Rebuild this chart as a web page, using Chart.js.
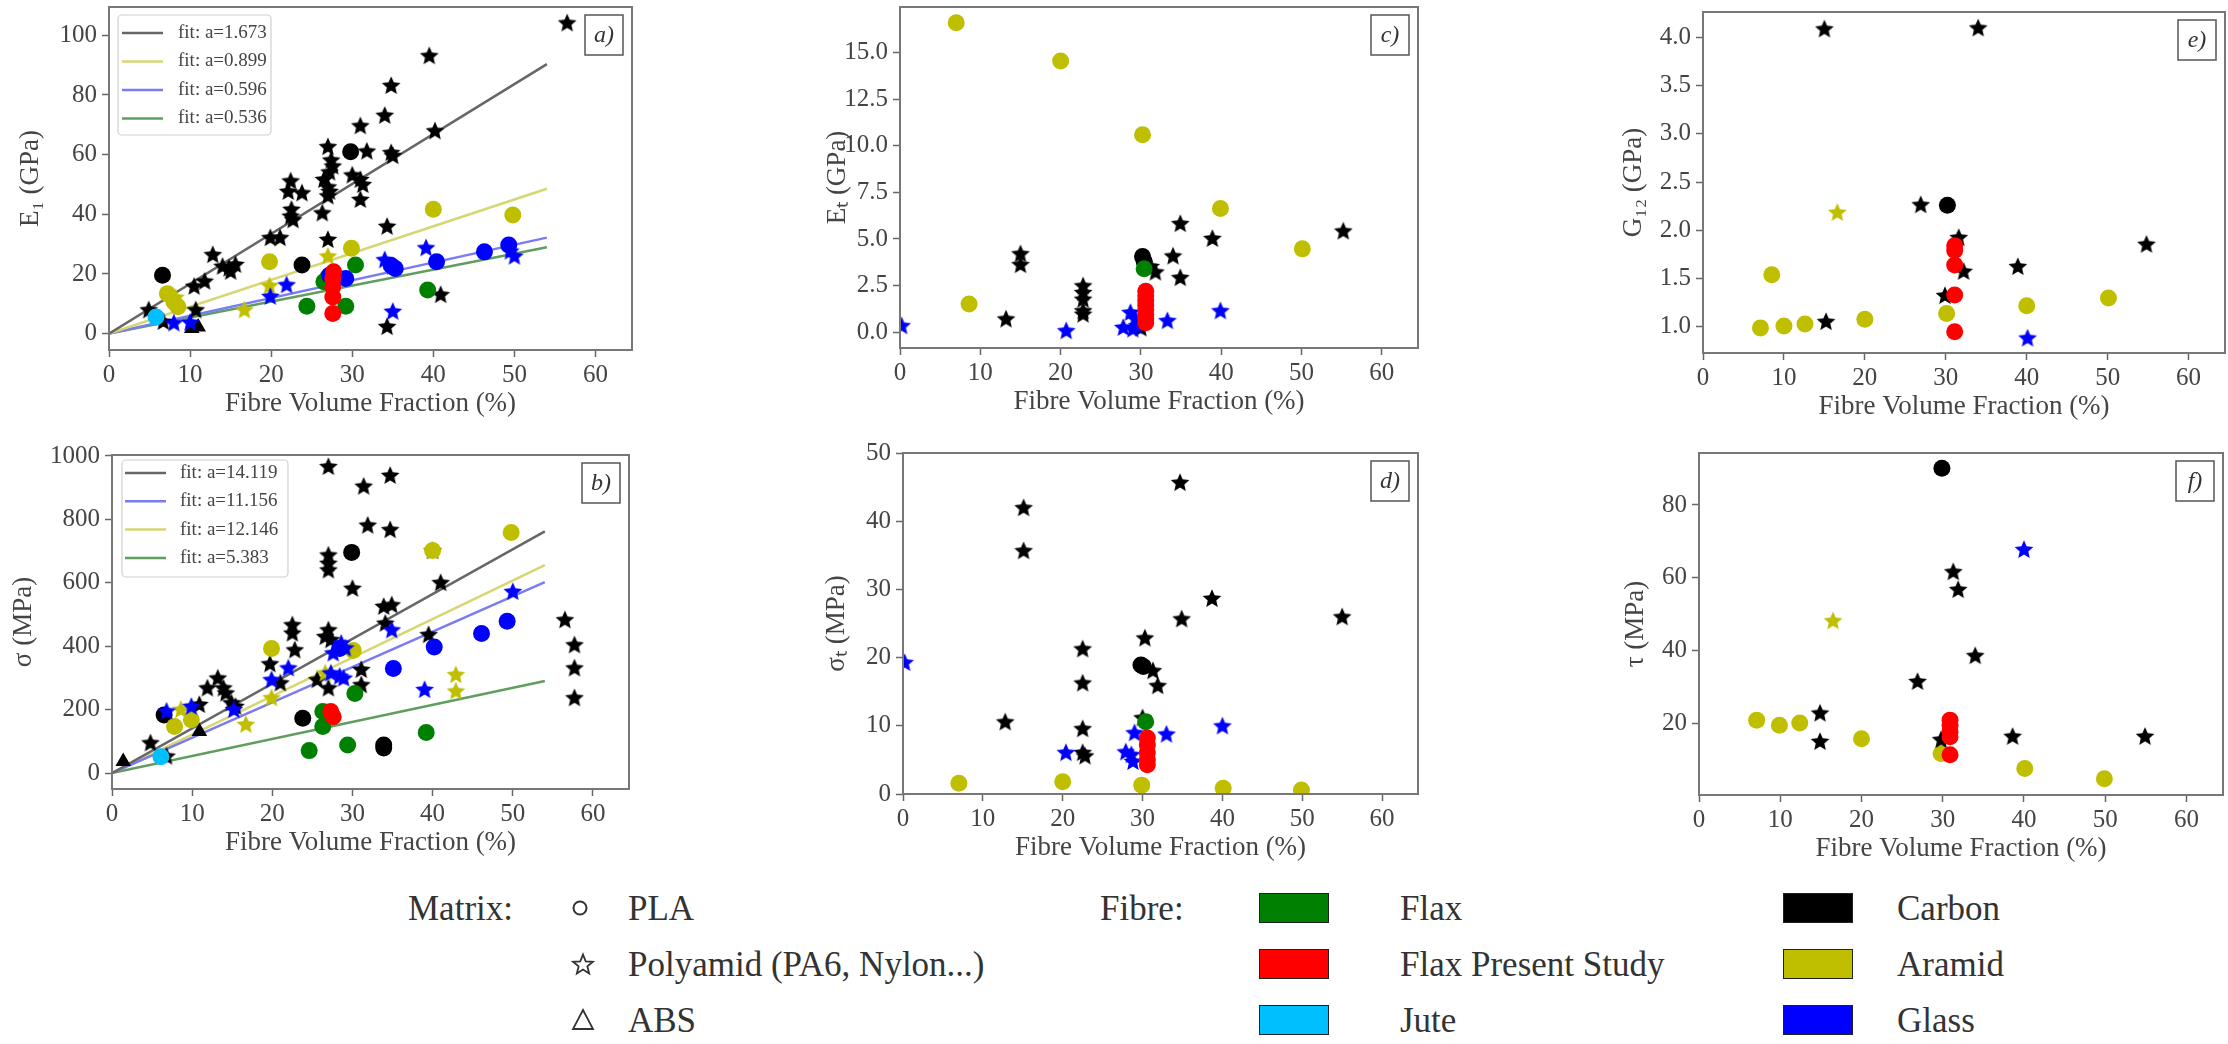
<!DOCTYPE html>
<html>
<head>
<meta charset="utf-8">
<script src="https://cdn.jsdelivr.net/npm/chart.js@4.4.0/dist/chart.umd.min.js"></script>
<style>
  body { margin: 0; background: #fff; width: 2228px; height: 1044px; position: relative; overflow: hidden; font-family: "Liberation Serif", serif; color: #333; }
  canvas { position: absolute; }
  .lg { position: absolute; font-size: 35px; line-height: 1; white-space: nowrap; transform: translateY(-50%); }
  .box { position: absolute; width: 68px; height: 28px; border: 1.5px solid #222; transform: translateY(-50%); }
  svg { position: absolute; }
</style>
</head>
<body>
<script>
// ---- shared axis data ----
const xTicks = [0, 10, 20, 30, 40, 50, 60];
const xMax = 64.5;
const fitEnd = 54;

// ---- a) E1 ----
const aYTicks = [0, 20, 40, 60, 80, 100];
const aFitSlopes = [1.673, 0.899, 0.596, 0.536];
const aCarbonStar = [[56.5,104],[39.5,93],[34.8,83],[34,73],[31,69.5],[40.2,67.8],[31.8,61],[34.8,60.5],[35,59.5],[27,62.5],[27.4,58],[27.6,56],[27.2,54],[26.5,51.5],[27,49],[27.2,47.5],[27,46],[26.3,40.3],[30,53],[31,51.5],[31.3,49.8],[31,44.8],[22.4,51],[22.1,47.5],[23.8,47],[22.5,41.5],[22.4,39.2],[22.7,38],[27,31.4],[19.9,32],[21.1,32],[34.3,35.8],[12.8,26.3],[14,22.4],[14.8,21.8],[15.6,23],[15,20.7],[11.8,17.4],[10.5,15.7],[10.7,7.8],[4.9,7.8],[6.7,3.9],[34.3,2.2],[40.9,12.9]];
const aCarbonCircle = [[6.6,19.6],[23.8,23],[29.8,61]];
const aCarbonTri = [[11,2.2],[10.2,1.7]];
const aAramidCircle = [[40,41.7],[49.8,39.8],[29.9,28.6],[19.8,24.1],[7.2,13.4],[8,10.6],[8.5,9]];
const aAramidStar = [[19.8,15.9],[16.7,7.8],[27,25.8],[8.2,12]];
const aGlassCircle = [[46.3,27.4],[49.3,29.7],[40.4,24.1],[35.3,21.8],[34.8,22.8],[27.2,19.6],[29.2,18.5],[28,18.5]];
const aGlassStar = [[39.1,28.6],[34,24.6],[35,22.4],[50,25.8],[49.5,27.5],[21.9,16.2],[19.9,12.3],[35,7.3],[8,3.4],[10,3.6],[28.5,19]];
const aFlaxCircle = [[39.3,14.6],[30.4,23],[24.4,9.2],[29.2,9.2],[26.5,17.4],[27,19]];
const aStudy = [[27.6,18.5],[27.6,15.7],[27.6,12.3],[27.6,6.7],[27.7,20.7]];
const aJute = [[5.8,5.6]];

// ---- b) sigma ----
const bYTicks = [0, 200, 400, 600, 800, 1000];
const bFitSlopes = [14.119, 11.156, 12.146, 5.383];
const bCarbonStar = [[27,965],[31.4,903],[34.7,937],[31.9,780],[34.7,766],[27,686],[27,660],[27,639],[30,581],[41,599],[40,700],[33.9,524],[34.9,529],[34.1,471],[39.5,435],[56.5,482],[57.7,403],[57.7,330],[57.7,236],[22.5,466],[22.5,440],[22.8,387],[19.7,343],[21,283],[27,450],[26.6,429],[27.3,419],[25.6,293],[27,267],[31.1,325],[31.1,277],[13.2,298],[11.9,267],[13.9,267],[14.2,251],[14.9,220],[15.4,209],[10.9,215],[4.8,94],[6.8,52]];
const bCarbonCircle = [[29.9,696],[6.5,183],[23.8,173],[33.9,89],[33.9,79]];
const bCarbonTri = [[1.4,37],[10.9,131]];
const bAramidCircle = [[49.8,759],[40,702],[19.9,393],[30.1,387],[7.8,147],[9.9,168]];
const bAramidStar = [[40,700],[42.9,309],[42.9,257],[19.9,236],[16.7,152],[26.6,314],[8.6,199]];
const bGlassCircle = [[49.3,479],[46.1,440],[40.2,398],[35.1,330],[28.4,393]];
const bGlassStar = [[50,571],[34.9,450],[39,262],[19.9,293],[22,330],[15.2,199],[6.8,194],[9.9,209],[27.6,377],[28.6,408],[29.1,393],[27.3,314],[28.9,298],[28.4,304]];
const bFlaxCircle = [[39.2,128],[30.3,251],[24.6,71],[29.4,89],[26.3,194],[26.3,147]];
const bStudy = [[27.3,194],[27.6,178]];
const bJute = [[6.1,52]];

// ---- c) Et ----
const cYTicks = [0, 2.5, 5, 7.5, 10, 12.5, 15];
const cAramidCircle = [[7,16.6],[20,14.55],[30.2,10.6],[39.9,6.64],[50.1,4.47],[8.6,1.51]];
const cCarbonStar = [[55.2,5.4],[34.9,5.8],[38.9,5],[34,4.06],[34.9,2.9],[15,4.18],[15,3.6],[22.8,2.46],[22.8,2.1],[22.8,1.74],[22.8,1.12],[22.8,0.94],[13.2,0.68],[31.8,3.2],[31.2,3.5],[30,0.2]];
const cCarbonCircle = [[30.2,4.06],[30.4,3.8]];
const cFlaxCircle = [[30.4,3.4]];
const cStudy = [[30.6,2.2],[30.6,1.95],[30.6,1.7],[30.6,1.45],[30.6,1.2],[30.6,0.95],[30.6,0.7],[30.6,0.5]];
const cGlassStar = [[0.2,0.32],[20.7,0.05],[27.8,0.23],[28.7,1.03],[29,0.14],[29.5,0.32],[33.3,0.59],[39.9,1.12],[29.3,0.7]];

// ---- d) sigma_t ----
const dYTicks = [0, 10, 20, 30, 40, 50];
const dCarbonStar = [[34.7,45.6],[15.1,41.9],[15.1,35.6],[38.7,28.6],[34.9,25.6],[55,25.9],[30.3,22.8],[22.5,21.2],[22.5,16.2],[22.5,9.5],[22.5,6],[22.8,5.5],[12.8,10.5],[31.3,18],[31.9,15.8],[30,11.1]];
const dCarbonCircle = [[29.8,18.9],[30.1,18.7]];
const dFlaxCircle = [[30.4,10.6]];
const dStudy = [[30.6,8.2],[30.6,7.2],[30.6,6],[30.6,5],[30.6,4.3]];
const dGlassStar = [[0.2,19.2],[20.4,6],[40,9.9],[33,8.7],[29,8.9],[27.9,6.1],[28.6,5.7],[28.8,4.7]];
const dAramidCircle = [[7,1.57],[20,1.8],[29.9,1.3],[40.1,0.83],[49.9,0.6]];

// ---- e) G12 ----
const eYTicks = [1, 1.5, 2, 2.5, 3, 3.5, 4];
const eCarbonStar = [[15,4.08],[34,4.09],[26.9,2.26],[31.6,1.92],[32.2,1.57],[38.9,1.62],[54.8,1.85],[29.9,1.32],[15.2,1.05]];
const eCarbonCircle = [[30.2,2.26]];
const eAramidStar = [[16.6,2.18]];
const eAramidCircle = [[8.5,1.54],[7.1,0.99],[10,1.01],[12.6,1.03],[20,1.08],[30.1,1.14],[40,1.22],[50.1,1.3]];
const eStudy = [[31.1,1.84],[31.1,1.79],[31.1,1.64],[31.1,1.33],[31.1,0.95]];
const eGlassStar = [[40.1,0.88]];

// ---- f) tau ----
const fYTicks = [20, 40, 60, 80];
const fCarbonCircle = [[29.9,90.1]];
const fGlassStar = [[40,67.6]];
const fCarbonStar = [[31.3,61.5],[31.9,56.6],[34,38.4],[26.9,31.3],[14.9,22.6],[14.9,14.8],[29.8,15.3],[38.6,16.2],[54.9,16.2]];
const fAramidStar = [[16.5,48]];
const fAramidCircle = [[7.1,20.8],[9.9,19.4],[12.4,20],[20,15.7],[29.8,11.6],[40.1,7.5],[49.9,4.7]];
const fStudy = [[30.9,20.8],[30.9,19.4],[30.9,17.5],[30.9,16.2],[30.9,11.3]];

// ---- legend ----
const matrixLabels = ['PLA', 'Polyamid (PA6, Nylon...)', 'ABS'];
const fibreLabels = ['Flax', 'Flax Present Study', 'Jute', 'Carbon', 'Aramid', 'Glass'];

const C = { carbon: '#000000', aramid: '#bfbf00', glass: '#0000ff', flax: '#008000', study: '#ff0000', jute: '#00bfff' };
const fibreColors = [C.flax, C.study, C.jute, C.carbon, C.aramid, C.glass];
const FONT = 'Liberation Serif';

function starImg(color) {
  const s = 24, R = 9.8, r = R * 0.46;
  const c = document.createElement('canvas');
  c.width = c.height = s;
  const g = c.getContext('2d');
  g.beginPath();
  for (let i = 0; i < 10; i++) {
    const rr = i % 2 ? r : R;
    const ang = -Math.PI / 2 + i * Math.PI / 5;
    g.lineTo(s / 2 + rr * Math.cos(ang), s / 2 + rr * Math.sin(ang));
  }
  g.closePath();
  g.fillStyle = color;
  g.fill();
  return c;
}

function ds(data, color, shape) {
  return {
    data: data.map(p => ({ x: p[0], y: p[1] })),
    pointStyle: shape === 'star' ? starImg(color) : shape,
    pointRadius: shape === 'circle' ? 8.5 : (shape === 'triangle' ? 9 : 10),
    backgroundColor: color, borderColor: color, borderWidth: 0, clip: 0
  };
}

const fitColors = { black: '#666666', yellow: '#d6d672', blue: '#7b7bf2', green: '#5f9e5f' };

function fitDs(slope, color) {
  return {
    data: [{ x: 0, y: 0 }, { x: fitEnd, y: slope * fitEnd }],
    showLine: true, pointRadius: 0, borderColor: color, borderWidth: 2.5, clip: 0,
    label: 'fit: a=' + slope.toFixed(3)
  };
}

const framePlugin = {
  id: 'frame',
  afterDraw(chart) {
    const { ctx, chartArea: a } = chart;
    ctx.save();
    ctx.strokeStyle = '#777';
    ctx.lineWidth = 2;
    ctx.strokeRect(a.left, a.top, a.right - a.left, a.bottom - a.top);
    ctx.restore();
  }
};

const tagPlugin = {
  id: 'tag',
  afterDraw(chart, args, opts) {
    if (!opts.text) return;
    const { ctx, chartArea: a } = chart;
    const w = 38, h = 40;
    const x = a.right - 9 - w, y = a.top + 8;
    ctx.save();
    ctx.fillStyle = '#fff';
    ctx.fillRect(x, y, w, h);
    ctx.strokeStyle = '#555';
    ctx.lineWidth = 1.5;
    ctx.strokeRect(x, y, w, h);
    ctx.fillStyle = '#333';
    ctx.font = 'italic 24px "' + FONT + '"';
    ctx.textAlign = 'center';
    ctx.textBaseline = 'middle';
    ctx.fillText(opts.text, x + w / 2, y + h / 2 + 1);
    ctx.restore();
  }
};

const fitLegendPlugin = {
  id: 'fitLegend',
  afterDraw(chart, args, opts) {
    if (!opts.box) return;
    const { ctx, chartArea: a } = chart;
    const b = opts.box;
    const x = a.left + b.x, y = a.top + b.y;
    ctx.save();
    ctx.fillStyle = 'rgba(255,255,255,0.85)';
    ctx.strokeStyle = '#d0d0d0';
    ctx.lineWidth = 1.2;
    ctx.beginPath();
    ctx.roundRect(x, y, b.w, b.h, 4);
    ctx.fill();
    ctx.stroke();
    const fits = chart.data.datasets.filter(d => d.showLine);
    ctx.font = '19px "' + FONT + '"';
    ctx.textBaseline = 'middle';
    fits.forEach((d, i) => {
      const ry = a.top + b.r0 + i * b.dy;
      ctx.strokeStyle = d.borderColor;
      ctx.lineWidth = 2.5;
      ctx.beginPath();
      ctx.moveTo(a.left + 13, ry);
      ctx.lineTo(a.left + 54, ry);
      ctx.stroke();
      ctx.fillStyle = '#444';
      ctx.fillText(d.label, a.left + b.tx, ry);
    });
    ctx.restore();
  }
};

const PT = 26, PR = 12, XH = 70;

function makePanel(p) {
  const c = document.createElement('canvas');
  const cw = p.W + (p.R - p.L) + PR, ch = PT + (p.B - p.T) + XH;
  c.width = cw; c.height = ch;
  c.style.left = (p.L - p.W) + 'px';
  c.style.top = (p.T - PT) + 'px';
  document.body.appendChild(c);
  const tickFont = { family: FONT, size: 25 };
  new Chart(c.getContext('2d'), {
    type: 'scatter',
    data: { datasets: p.datasets },
    options: {
      responsive: false, animation: false, events: [],
      layout: { padding: { top: PT, right: PR, left: 0, bottom: 0 } },
      plugins: {
        legend: { display: false }, tooltip: { enabled: false },
        tag: { text: p.tag },
        fitLegend: { box: p.legendBox }
      },
      scales: {
        x: {
          type: 'linear', min: 0, max: xMax,
          afterBuildTicks: s => { s.ticks = xTicks.map(v => ({ value: v })); },
          afterFit: s => { s.height = XH; },
          grid: { display: true, drawOnChartArea: false, drawTicks: true, tickLength: 7, tickColor: '#666', tickWidth: 1.5 },
          border: { display: false },
          ticks: { color: '#444', font: tickFont, padding: 3, maxRotation: 0, autoSkip: false },
          title: { display: true, text: 'Fibre Volume Fraction (%)', color: '#444', font: { family: FONT, size: 27 }, padding: 0 }
        },
        y: {
          type: 'linear', min: p.ymin, max: p.ymax,
          afterBuildTicks: s => { s.ticks = p.yTicks.map(v => ({ value: v })); },
          afterFit: s => { s.width = p.W; },
          grid: { display: true, drawOnChartArea: false, drawTicks: true, tickLength: 7, tickColor: '#666', tickWidth: 1.5 },
          border: { display: false },
          ticks: { color: '#444', font: tickFont, padding: 5, autoSkip: false, callback: v => v.toFixed(p.dec) },
          title: { display: true, text: p.title, color: '#444', font: { family: FONT, size: 27 }, padding: 0 }
        }
      }
    },
    plugins: [framePlugin, tagPlugin, fitLegendPlugin]
  });
}

makePanel({
  L: 109, T: 7, R: 632, B: 350, W: 94, ymin: -5.5, ymax: 109.5, yTicks: aYTicks, dec: 0, title: 'E₁ (GPa)', tag: 'a)',
  legendBox: { x: 9, y: 8, w: 153, h: 120, r0: 26, dy: 28.5, tx: 69 },
  datasets: [
    ds(aStudy, C.study, 'circle'), ds(aJute, C.jute, 'circle'),
    ds(aGlassCircle, C.glass, 'circle'), ds(aGlassStar, C.glass, 'star'),
    ds(aFlaxCircle, C.flax, 'circle'),
    ds(aAramidCircle, C.aramid, 'circle'), ds(aAramidStar, C.aramid, 'star'),
    ds(aCarbonCircle, C.carbon, 'circle'), ds(aCarbonStar, C.carbon, 'star'), ds(aCarbonTri, C.carbon, 'triangle'),
    fitDs(aFitSlopes[0], fitColors.black), fitDs(aFitSlopes[1], fitColors.yellow),
    fitDs(aFitSlopes[2], fitColors.blue), fitDs(aFitSlopes[3], fitColors.green)
  ]
});

makePanel({
  L: 112, T: 455, R: 629, B: 789, W: 104, ymin: -50, ymax: 1003, yTicks: bYTicks, dec: 0, title: 'σ (MPa)', tag: 'b)',
  legendBox: { x: 10, y: 5, w: 166, h: 117, r0: 18, dy: 28.3, tx: 68 },
  datasets: [
    ds(bStudy, C.study, 'circle'), ds(bJute, C.jute, 'circle'),
    ds(bGlassCircle, C.glass, 'circle'), ds(bGlassStar, C.glass, 'star'),
    ds(bFlaxCircle, C.flax, 'circle'),
    ds(bAramidCircle, C.aramid, 'circle'), ds(bAramidStar, C.aramid, 'star'),
    ds(bCarbonCircle, C.carbon, 'circle'), ds(bCarbonStar, C.carbon, 'star'), ds(bCarbonTri, C.carbon, 'triangle'),
    fitDs(bFitSlopes[0], fitColors.black), fitDs(bFitSlopes[1], fitColors.blue),
    fitDs(bFitSlopes[2], fitColors.yellow), fitDs(bFitSlopes[3], fitColors.green)
  ]
});

makePanel({
  L: 900, T: 7, R: 1418, B: 348, W: 78, ymin: -0.85, ymax: 17.45, yTicks: cYTicks, dec: 1, title: 'Eₜ (GPa)', tag: 'c)',
  datasets: [
    ds(cStudy, C.study, 'circle'), ds(cGlassStar, C.glass, 'star'), ds(cFlaxCircle, C.flax, 'circle'),
    ds(cCarbonCircle, C.carbon, 'circle'), ds(cCarbonStar, C.carbon, 'star'), ds(cAramidCircle, C.aramid, 'circle')
  ]
});

makePanel({
  L: 903, T: 453, R: 1418, B: 794, W: 82, ymin: 0, ymax: 50, yTicks: dYTicks, dec: 0, title: 'σₜ (MPa)', tag: 'd)',
  datasets: [
    ds(dStudy, C.study, 'circle'), ds(dGlassStar, C.glass, 'star'), ds(dFlaxCircle, C.flax, 'circle'),
    ds(dCarbonCircle, C.carbon, 'circle'), ds(dCarbonStar, C.carbon, 'star'), ds(dAramidCircle, C.aramid, 'circle')
  ]
});

makePanel({
  L: 1703, T: 12, R: 2225, B: 353, W: 85, ymin: 0.73, ymax: 4.26, yTicks: eYTicks, dec: 1, title: 'G₁₂ (GPa)', tag: 'e)',
  datasets: [
    ds(eStudy, C.study, 'circle'), ds(eGlassStar, C.glass, 'star'),
    ds(eCarbonCircle, C.carbon, 'circle'), ds(eCarbonStar, C.carbon, 'star'),
    ds(eAramidStar, C.aramid, 'star'), ds(eAramidCircle, C.aramid, 'circle')
  ]
});

makePanel({
  L: 1699, T: 453, R: 2223, B: 795, W: 79, ymin: 0.2, ymax: 94.3, yTicks: fYTicks, dec: 0, title: 'τ (MPa)', tag: 'f)',
  datasets: [
    ds(fStudy, C.study, 'circle'), ds(fGlassStar, C.glass, 'star'),
    ds(fCarbonCircle, C.carbon, 'circle'), ds(fCarbonStar, C.carbon, 'star'),
    ds(fAramidStar, C.aramid, 'star'), ds(fAramidCircle, C.aramid, 'circle')
  ]
});

// ---- bottom legend ----
const rowsY = [908, 964, 1020];
function addText(txt, x, y) {
  const d = document.createElement('div');
  d.className = 'lg';
  d.textContent = txt;
  d.style.left = x + 'px';
  d.style.top = y + 'px';
  document.body.appendChild(d);
}
function addSvg(x, y, inner) {
  const ns = 'http://www.w3.org/2000/svg';
  const s = document.createElementNS(ns, 'svg');
  s.setAttribute('width', 26); s.setAttribute('height', 26);
  s.style.left = (x - 13) + 'px'; s.style.top = (y - 13) + 'px';
  s.innerHTML = inner;
  document.body.appendChild(s);
}
addText('Matrix:', 408, rowsY[0]);
addSvg(580, rowsY[0], '<circle cx="13" cy="13" r="6.5" fill="none" stroke="#333" stroke-width="2"/>');
let sp = [];
for (let i = 0; i < 10; i++) {
  const rr = i % 2 ? 4.6 : 10.5, ang = -Math.PI / 2 + i * Math.PI / 5;
  sp.push((13 + rr * Math.cos(ang)).toFixed(2) + ',' + (14 + rr * Math.sin(ang)).toFixed(2));
}
addSvg(583, rowsY[1], '<polygon points="' + sp.join(' ') + '" fill="none" stroke="#333" stroke-width="1.8"/>');
addSvg(583, rowsY[2], '<polygon points="13,3 23,22 3,22" fill="none" stroke="#333" stroke-width="1.8"/>');
matrixLabels.forEach((t, i) => addText(t, 628, rowsY[i]));

addText('Fibre:', 1100, rowsY[0]);
fibreLabels.forEach((t, i) => {
  const col = i < 3 ? 0 : 1, row = i % 3;
  const bx = col ? 1783 : 1259;
  const b = document.createElement('div');
  b.className = 'box';
  b.style.left = bx + 'px';
  b.style.top = rowsY[row] + 'px';
  b.style.background = fibreColors[i];
  document.body.appendChild(b);
  addText(t, col ? 1897 : 1400, rowsY[row]);
});
</script>
</body>
</html>
